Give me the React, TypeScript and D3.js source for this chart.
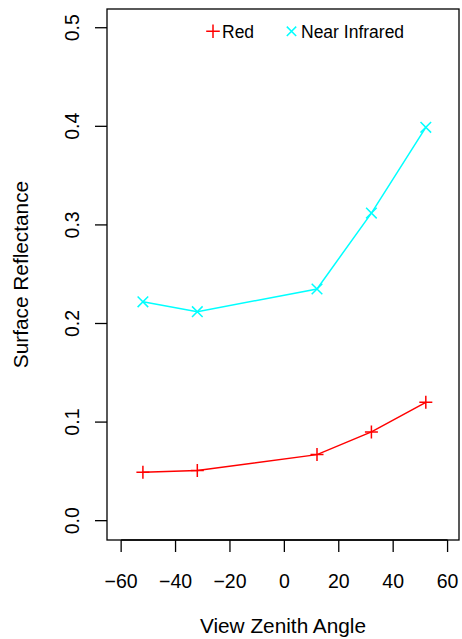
import React from "react";
import * as d3 from "d3";

const angles = [-52, -32, 12, 32, 52];
const redValues = [0.049, 0.051, 0.067, 0.09, 0.12];
const nirValues = [0.222, 0.212, 0.235, 0.312, 0.399];
const xTicks = [-60, -40, -20, 0, 20, 40, 60];
const yTicks = [0, 0.1, 0.2, 0.3, 0.4, 0.5];
const seriesNames = ["Red", "Near Infrared"];
const seriesColors = ["#FF0000", "#00FFFF"];

const W = 462;
const H = 639;
const box = { left: 107, right: 459, top: 9, bottom: 540 };
const FONT = "Liberation Sans, Arial, Helvetica, sans-serif";

export default function App() {
  const x = d3.scaleLinear().domain([-65.2, 64.2]).range([box.left, box.right]);
  const y = d3.scaleLinear().domain([-0.0196, 0.519]).range([box.bottom, box.top]);
  const line = d3
    .line<[number, number]>()
    .x((d) => x(d[0]))
    .y((d) => y(d[1]));
  const redPts: [number, number][] = angles.map((a, i) => [a, redValues[i]]);
  const nirPts: [number, number][] = angles.map((a, i) => [a, nirValues[i]]);
  const plus = (cx: number, cy: number, s: number) =>
    `M${cx - s},${cy}L${cx + s},${cy}M${cx},${cy - s}L${cx},${cy + s}`;
  const cross = (cx: number, cy: number, s: number) =>
    `M${cx - s},${cy - s}L${cx + s},${cy + s}M${cx - s},${cy + s}L${cx + s},${cy - s}`;

  return (
    <svg
      width={W}
      height={H}
      style={{ position: "absolute", left: 0, top: 0, background: "#fff" }}
      fontFamily={FONT}
    >
      <rect x={0} y={0} width={W} height={H} fill="#fff" />
      {/* box */}
      <rect
        x={box.left}
        y={box.top}
        width={box.right - box.left}
        height={box.bottom - box.top}
        fill="none"
        stroke="#000"
        strokeWidth={1.3}
      />
      {/* x axis */}
      <line x1={x(-60)} x2={x(60)} y1={box.bottom} y2={box.bottom} stroke="#000" strokeWidth={1.3} />
      {xTicks.map((t) => (
        <g key={t}>
          <line x1={x(t)} x2={x(t)} y1={box.bottom} y2={box.bottom + 12} stroke="#000" strokeWidth={1.3} />
          <text x={x(t)} y={587.5} textAnchor="middle" fontSize={19.5} fill="#000">
            {t < 0 ? "\u2212" + Math.abs(t) : String(t)}
          </text>
        </g>
      ))}
      {/* y axis */}
      {yTicks.map((t) => (
        <g key={t}>
          <line x1={box.left - 12} x2={box.left} y1={y(t)} y2={y(t)} stroke="#000" strokeWidth={1.3} />
          <text
            transform={`translate(79,${y(t)}) rotate(-90)`}
            textAnchor="middle"
            fontSize={19.5}
            fill="#000"
          >
            {t.toFixed(1)}
          </text>
        </g>
      ))}
      {/* axis titles */}
      <text x={(box.left + box.right) / 2} y={633} textAnchor="middle" fontSize={20.8} fill="#000">
        View Zenith Angle
      </text>
      <text
        transform={`translate(27.5,${(box.top + box.bottom) / 2}) rotate(-90)`}
        textAnchor="middle"
        fontSize={20.8}
        fill="#000"
      >
        Surface Reflectance
      </text>
      {/* lines */}
      <path d={line(redPts) || ""} fill="none" stroke={seriesColors[0]} strokeWidth={1.5} />
      <path d={line(nirPts) || ""} fill="none" stroke={seriesColors[1]} strokeWidth={1.5} />
      {redPts.map((p, i) => (
        <path key={"r" + i} d={plus(x(p[0]), y(p[1]), 6.5)} stroke={seriesColors[0]} strokeWidth={1.5} />
      ))}
      {nirPts.map((p, i) => (
        <path key={"n" + i} d={cross(x(p[0]), y(p[1]), 5.3)} stroke={seriesColors[1]} strokeWidth={1.5} />
      ))}
      {/* legend */}
      <path d={plus(213, 31.3, 6.8)} stroke={seriesColors[0]} strokeWidth={1.5} />
      <text x={222} y={37.8} fontSize={17.5} fill="#000">
        {seriesNames[0]}
      </text>
      <path d={cross(291.5, 31.3, 4.7)} stroke={seriesColors[1]} strokeWidth={1.5} />
      <text x={301} y={37.8} fontSize={17.5} fill="#000">
        {seriesNames[1]}
      </text>
    </svg>
  );
}
